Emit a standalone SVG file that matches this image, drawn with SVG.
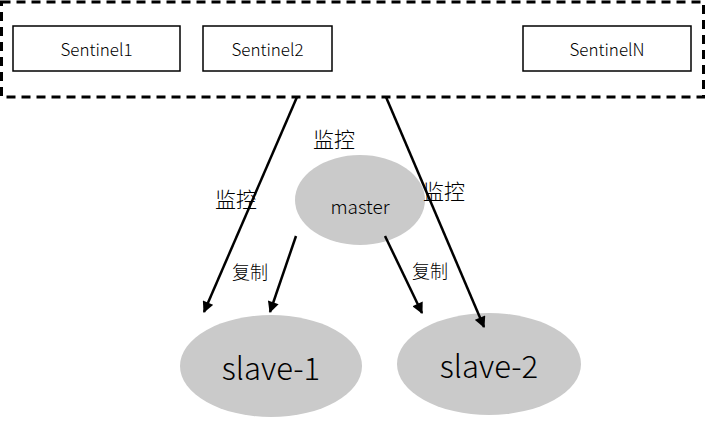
<svg xmlns="http://www.w3.org/2000/svg" width="707" height="423" viewBox="0 0 707 423">
<style>
.box{fill:#fff;stroke:#000;stroke-width:1.5}
.t{font-family:"Noto Sans CJK SC","Liberation Sans",sans-serif;font-weight:300;fill:#000;text-anchor:middle;dominant-baseline:central}
.ell{fill:#cacaca;stroke:none}
.arr{stroke:#000;stroke-width:2.5;fill:none;marker-end:url(#ah)}
</style>
<defs>
<marker id="ah" viewBox="0 0 10 10" refX="9" refY="5" markerWidth="5" markerHeight="4.5" orient="auto" markerUnits="strokeWidth">
<path d="M0,0L10,5L0,10z" fill="#000"/>
</marker>
</defs>
<g id="sentinel-group">
<rect x="1.5" y="2" width="702" height="95" fill="none" stroke="#000" stroke-width="3" stroke-dasharray="9 6"/>
</g>
<g id="sentinel1"><rect class="box" x="13" y="26" width="167" height="45"/><text class="t" x="96.5" y="48.5" font-size="17">Sentinel1</text></g>
<g id="sentinel2"><rect class="box" x="203" y="26" width="129" height="45"/><text class="t" x="267.5" y="48.5" font-size="17">Sentinel2</text></g>
<g id="sentinelN"><rect class="box" x="523" y="26" width="168" height="45"/><text class="t" x="607" y="48.5" font-size="17">SentinelN</text></g>
<g id="master"><ellipse class="ell" cx="360" cy="200" rx="65" ry="45"/><text class="t" x="360" y="205" font-size="19">master</text></g>
<g id="slave-1"><ellipse class="ell" cx="271" cy="366" rx="91" ry="51"/><text class="t" x="271" y="366" font-size="31">slave-1</text></g>
<g id="slave-2"><ellipse class="ell" cx="489" cy="364" rx="92" ry="51"/><text class="t" x="489" y="364" font-size="31">slave-2</text></g>
<g id="connectors">
<line class="arr" x1="297" y1="97" x2="204" y2="312"/>
<line class="arr" x1="386" y1="97" x2="484" y2="327"/>
<line class="arr" x1="296" y1="236" x2="270" y2="312"/>
<line class="arr" x1="385" y1="236" x2="422" y2="313"/>
<text class="t" x="334" y="138" font-size="21">监控</text>
<text class="t" x="236" y="198" font-size="21">监控</text>
<text class="t" x="444" y="190" font-size="21">监控</text>
<text class="t" x="250" y="271" font-size="18">复制</text>
<text class="t" x="430" y="270" font-size="18">复制</text>
</g>
</svg>
